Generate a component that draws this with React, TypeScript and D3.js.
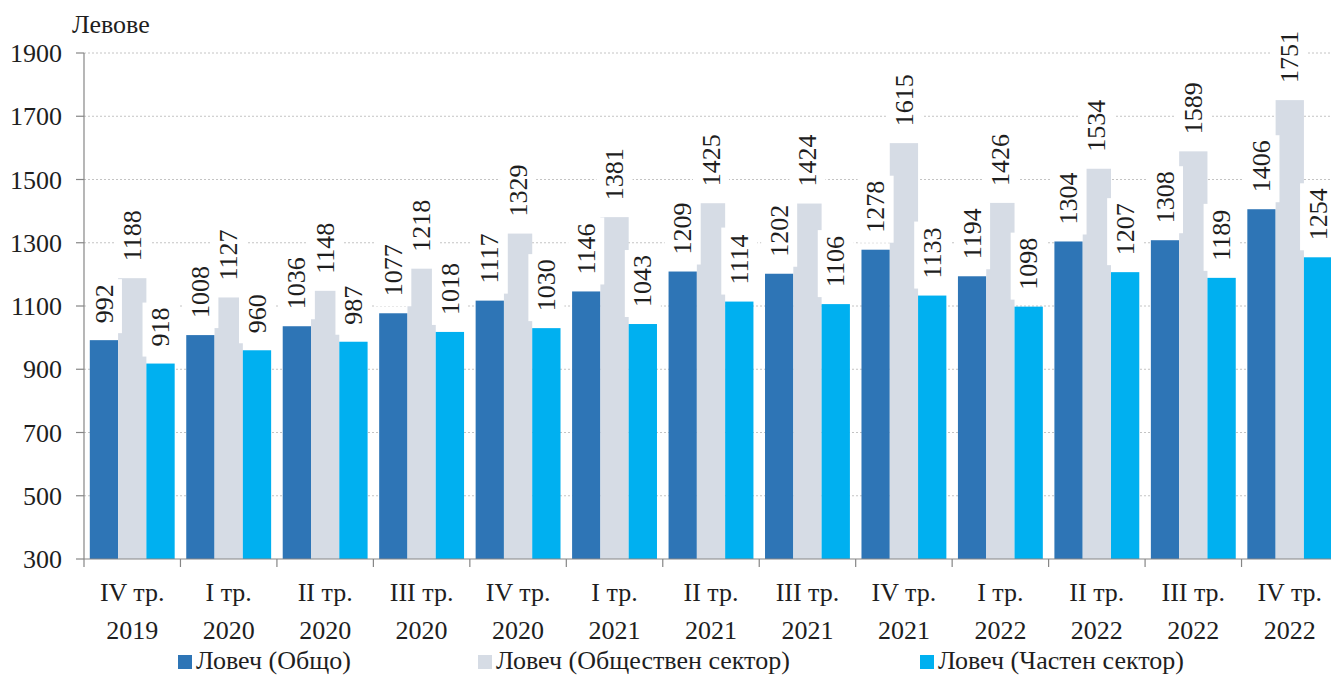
import React from "react";
import * as d3 from "d3";

// Average wage by quarter, Lovech district (leva)
const quarters = ["IV тр.", "I тр.", "II тр.", "III тр.", "IV тр.", "I тр.", "II тр.", "III тр.", "IV тр.", "I тр.", "II тр.", "III тр.", "IV тр."];
const years = ["2019", "2020", "2020", "2020", "2020", "2021", "2021", "2021", "2021", "2022", "2022", "2022", "2022"];

const totalValues = [992, 1008, 1036, 1077, 1117, 1146, 1209, 1202, 1278, 1194, 1304, 1308, 1406];
const publicValues = [1188, 1127, 1148, 1218, 1329, 1381, 1425, 1424, 1615, 1426, 1534, 1589, 1751];
const privateValues = [918, 960, 987, 1018, 1030, 1043, 1114, 1106, 1133, 1098, 1207, 1189, 1254];

const seriesNames = ["Ловеч (Общо)", "Ловеч (Обществен сектор)", "Ловеч (Частен сектор)"];
const seriesColors = ["#2e75b6", "#d6dce5", "#00b0f0"];
const yTicks = [300, 500, 700, 900, 1100, 1300, 1500, 1700, 1900];

const WIDTH = 1331;
const HEIGHT = 675;
const FONT = "Liberation Serif, Times New Roman, DejaVu Serif, serif";
const TEXT = "#1e1e1e";

const left = 84;
const right = 1338;
const top = 53;
const bottom = 559;

export default function App(): React.ReactElement {
    const series = [totalValues, publicValues, privateValues];
    const keys = quarters.map((q, i) => `${i}`);

    const x0 = d3.scaleBand<string>()
        .domain(keys)
        .range([left, right])
        .paddingInner(0.12)
        .paddingOuter(0.06);

    const x1 = d3.scaleBand<number>()
        .domain([0, 1, 2])
        .range([0, x0.bandwidth()]);

    const y = d3.scaleLinear().domain([300, 1900]).range([bottom, top]);

    const step = x0.step();

    // group boundaries for category ticks
    const boundaries = d3.range(keys.length + 1).map((i) => left + i * step);

    const bars: React.ReactNode[] = [];
    const boxes: React.ReactNode[] = [];
    const labels: React.ReactNode[] = [];

    keys.forEach((k, i) => {
        series.forEach((values, s) => {
            const v = values[i];
            const bx = (x0(k) ?? 0) + (x1(s) ?? 0);
            const bw = x1.bandwidth();
            const by = y(v);
            bars.push(
                <rect key={`b${i}-${s}`} x={bx} y={by} width={bw} height={bottom - by} fill={seriesColors[s]} />,
            );

            const cx = bx + bw / 2;
            const ly = by - 17;
            const len = String(v).length * 13;
            boxes.push(
                <rect
                    key={`r${i}-${s}`}
                    transform={`translate(${cx},${ly}) rotate(-90)`}
                    x={-10}
                    y={-18}
                    width={len + 15}
                    height={36}
                    fill="#ffffff"
                />,
            );
            labels.push(
                <text
                    key={`t${i}-${s}`}
                    transform={`translate(${cx},${ly}) rotate(-90)`}
                    dy="0.33em"
                    textAnchor="start"
                    fontSize={26}
                    fontFamily={FONT}
                    fill={TEXT}
                >
                    {v}
                </text>,
            );
        });
    });

    const legendX = [178, 478, 920];

    return (
        <div>
            <style>{"body{margin:0}"}</style>
            <svg width={WIDTH} height={HEIGHT} style={{ display: "block" }} fontFamily={FONT}>
                <rect width={WIDTH} height={HEIGHT} fill="#ffffff" />

                {/* gridlines */}
                {yTicks.slice(1).map((t) => (
                    <line
                        key={`g${t}`}
                        x1={left}
                        x2={WIDTH}
                        y1={y(t)}
                        y2={y(t)}
                        stroke="#c4c4c4"
                        strokeDasharray="2,2"
                    />
                ))}

                {bars}

                {/* y axis */}
                <line x1={left} x2={left} y1={top} y2={bottom} stroke="#868686" strokeWidth={1.2} />
                {yTicks.map((t) => (
                    <g key={`y${t}`}>
                        <line x1={left - 8} x2={left} y1={y(t)} y2={y(t)} stroke="#868686" strokeWidth={1.2} />
                        <text x={62} y={y(t) + 9} textAnchor="end" fontSize={26} fontFamily={FONT} fill={TEXT}>{t}</text>
                    </g>
                ))}

                {/* x axis */}
                <line x1={left} x2={WIDTH} y1={bottom} y2={bottom} stroke="#868686" strokeWidth={1.2} />
                {boundaries.map((bx, i) => (
                    <line key={`xt${i}`} x1={bx} x2={bx} y1={bottom} y2={bottom + 8} stroke="#868686" strokeWidth={1.2} />
                ))}
                {keys.map((k, i) => {
                    const cx = (x0(k) ?? 0) + x0.bandwidth() / 2;
                    return (
                        <g key={`xl${i}`}>
                            <text x={cx} y={601} textAnchor="middle" fontSize={26} fontFamily={FONT} fill={TEXT}>{quarters[i]}</text>
                            <text x={cx} y={639} textAnchor="middle" fontSize={26} fontFamily={FONT} fill={TEXT}>{years[i]}</text>
                        </g>
                    );
                })}

                {boxes}
                {labels}

                <text x={72} y={33} fontSize={26} fontFamily={FONT} fill={TEXT}>Левове</text>

                {/* legend */}
                {seriesNames.map((name, s) => (
                    <g key={`l${s}`}>
                        <rect x={legendX[s]} y={655} width={14} height={14} fill={seriesColors[s]} />
                        <text x={legendX[s] + 18} y={669} fontSize={26} fontFamily={FONT} fill={TEXT}>{name}</text>
                    </g>
                ))}
            </svg>
        </div>
    );
}
